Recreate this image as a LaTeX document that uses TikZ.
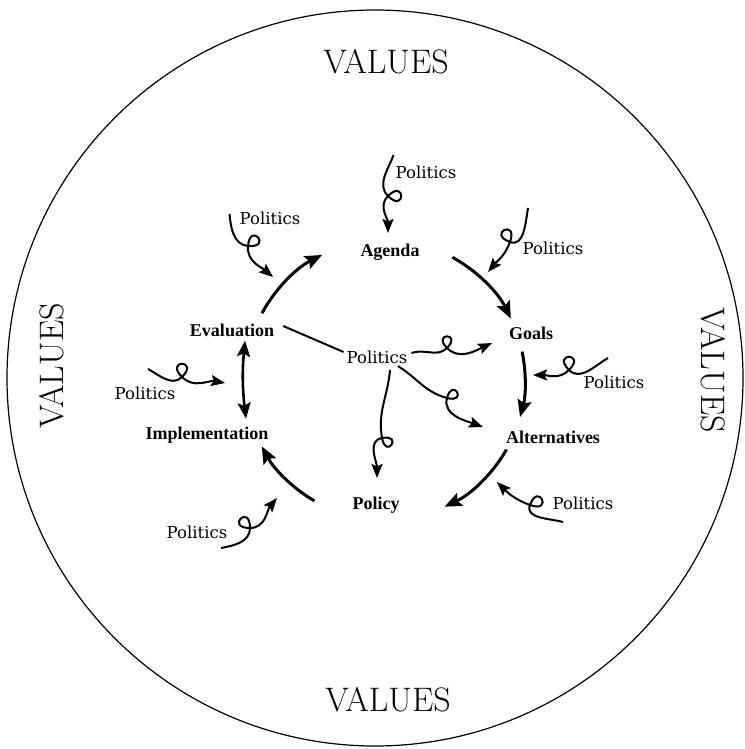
\documentclass[tikz,border=0pt]{standalone}
\usepackage{fontspec}
\newfontfamily\polfont{DejaVu Serif}
\newfontfamily\stagefont{Liberation Serif}
\usetikzlibrary{arrows.meta}
\begin{document}
\begin{tikzpicture}[
  x=1pt, y=-1pt,
  vals/.style={font=\fontsize{34}{36}\selectfont, inner sep=0pt},
  stage/.style={font=\stagefont\bfseries\fontsize{18}{20}\selectfont, inner sep=1pt},
  pol/.style={font=\polfont\fontsize{16.5}{18}\selectfont, inner sep=1pt},
  cyc/.style={line width=3pt, -{Stealth[length=17pt,width=14pt,inset=3pt]}},
  dbl/.style={line width=2.6pt, {Stealth[length=16pt,width=13pt,inset=3pt]}-{Stealth[length=16pt,width=13pt,inset=3pt]}},
  curl/.style={line width=2pt, -{Stealth[length=14pt,width=11pt,inset=2.5pt]}},
  lp/.style={distance=25pt}
]
\useasboundingbox (0,0) rectangle (744,749);
% ---------- outer ring ----------
\draw[line width=1.2pt] (375,378) circle[radius=368pt];
\node[vals] (valT) at (386,62) {VALUES};
\node[vals] (valB) at (388,700) {VALUES};
\node[vals,rotate=90] (valL) at (52,366) {VALUES};
\node[vals,rotate=-90] (valR) at (713,370) {VALUES};
% ---------- stages ----------
\coordinate (hub) at (385,380);
\node[stage] (agenda) at (390,252) {Agenda};
\node[stage] (goals)  at (531,333) {Goals};
\node[stage] (alts)   at (553,437) {Alternatives};
\node[stage] (policy) at (376,505) {Policy};
\node[stage] (impl)   at (207,435) {Implementation};
\node[stage] (evalu)  at (232,330) {Evaluation};
\node[pol]   (cpol)   at (377,357) {Politics};
% ---------- cycle ----------
\draw[cyc] ([shift={(151.5:140pt)}]hub) arc[start angle=151.5, end angle=116.7, radius=140pt];
\draw[cyc] ([shift={(61.2:140pt)}]hub) arc[start angle=61.2, end angle=26, radius=140pt];
\draw[cyc] ([shift={(11.7:140pt)}]hub) arc[start angle=11.7, end angle=-15.3, radius=140pt];
\draw[cyc] ([shift={(-29.8:140pt)}]hub) arc[start angle=-29.8, end angle=-64.8, radius=140pt];
\draw[cyc] ([shift={(-120.3:140pt)}]hub) arc[start angle=-120.3, end angle=-151.7, radius=140pt];
\draw[dbl] ([xshift=13pt,yshift=-3pt]evalu.south) to[bend right=6] ([xshift=39pt,yshift=7pt]impl.north);
\draw[line width=2pt] ([xshift=8pt,yshift=4pt]evalu.east) -- ([xshift=-2pt,yshift=5pt]cpol.west);
% ---------- outer politics ----------
\node[pol] (polT)  at (426,172) {Politics};
\node[pol] (polTL) at (270,218) {Politics};
\node[pol] (polTR) at (553,248) {Politics};
\node[pol] (polR)  at (614,382) {Politics};
\node[pol] (polL)  at (145,393) {Politics};
\node[pol] (polBL) at (197,532) {Politics};
\node[pol] (polBR) at (583,503) {Politics};
\coordinate (kT)  at (388,196); \coordinate (tT)  at (388,233);
\coordinate (kTL) at (248,246); \coordinate (tTL) at (273,277);
\coordinate (kTR) at (510,242); \coordinate (tTR) at (488,272);
\coordinate (kR)  at (569,370); \coordinate (tR)  at (533,375);
\coordinate (kL)  at (182,377); \coordinate (tL)  at (225,383);
\coordinate (kBL) at (250,528); \coordinate (tBL) at (277,498);
\coordinate (kBR) at (530,505); \coordinate (tBR) at (497,482);
\draw[curl] ([shift={(-1,-17)}]polT.west) to[out=-110,in=135] (kT)
  to[out=-45,in=45,lp] (kT) to[out=-135,in=90] (tT);
\draw[curl] ([shift={(-9,-4)}]polTL.west) to[out=-85,in=175] (kTL)
  to[out=-5,in=85,lp] (kTL) to[out=-95,in=140] (tTL);
\draw[curl] ([shift={(6.5,-40)}]polTR.west) to[out=-100,in=-20] (kTR)
  to[out=160,in=70,lp] (kTR) to[out=-110,in=50] (tTR);
\draw[curl] ([shift={(25.5,-24)}]polR.west) to[out=-150,in=-45] (kR)
  to[out=135,in=45,lp] (kR) to[out=-135,in=0] (tR);
\draw[curl] ([shift={(3,-16.5)}]polL.north) to[out=-30,in=-135] (kL)
  to[out=45,in=135,lp] (kL) to[out=-45,in=170] (tL);
\draw[curl] ([shift={(-7.5,16)}]polBL.east) to[out=10,in=-90] (kBL)
  to[out=90,in=180,lp] (kBL) to[out=0,in=-130] (tBL);
\draw[curl] ([shift={(11.5,19)}]polBR.west) to[out=165,in=-110] (kBR)
  to[out=70,in=-20,lp] (kBR) to[out=160,in=-45] (tBR);
% ---------- centre politics ----------
\coordinate (kG) at (447,348); \coordinate (tG) at (492,343);
\coordinate (kA) at (447,398); \coordinate (tA) at (483,427);
\coordinate (kP) at (382,438); \coordinate (tP) at (377,478);
\draw[curl] ([shift={(3,-4)}]cpol.east) to[out=20,in=-135] (kG)
  to[out=45,in=135,distance=22pt] (kG) to[out=-45,in=-155] (tG);
\draw[curl] ([shift={(21,1.5)}]cpol.south) to[out=-32,in=165] (kA)
  to[out=-15,in=75,distance=22pt] (kA) to[out=-105,in=160] (tA);
\draw[curl] ([shift={(13,5.5)}]cpol.south) to[out=-95,in=100] (kP)
  to[out=-80,in=10,distance=22pt] (kP) to[out=-170,in=90] (tP);
\end{tikzpicture}
\end{document}
